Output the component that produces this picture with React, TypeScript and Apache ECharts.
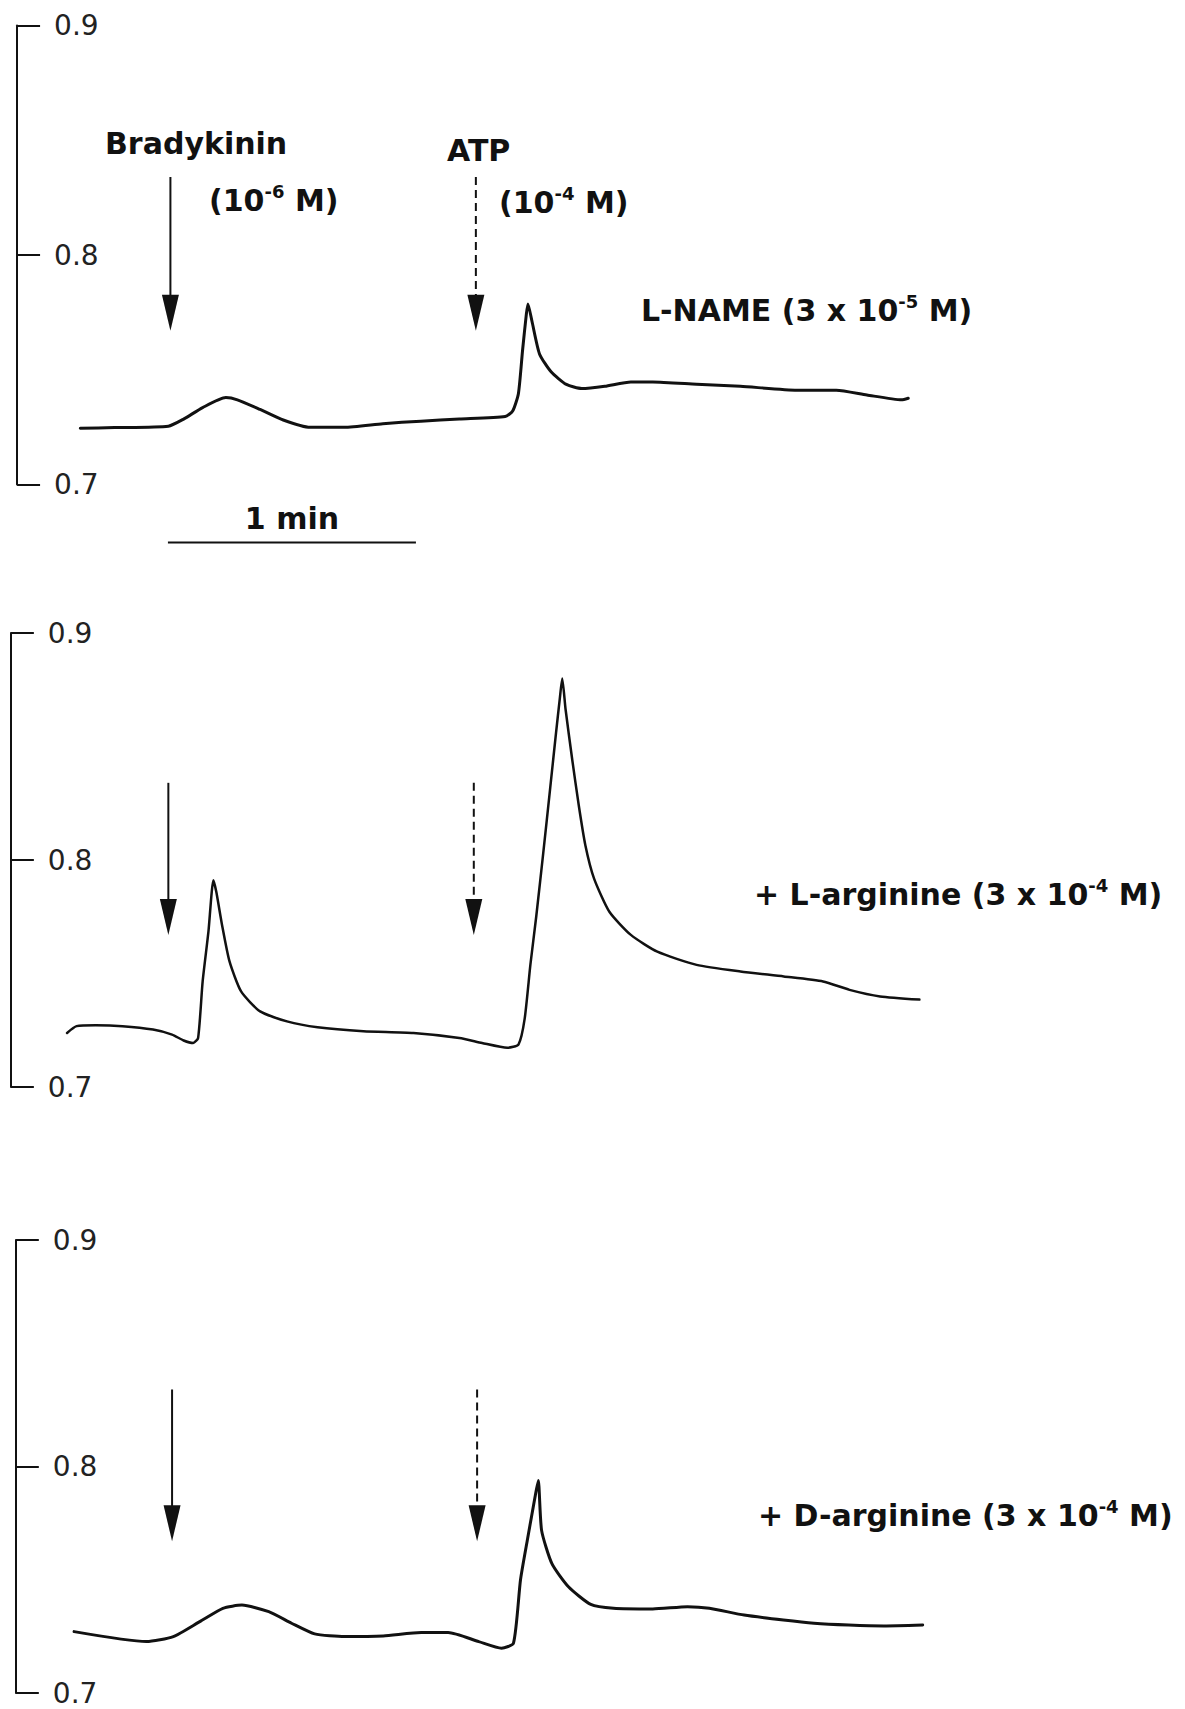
import React, { useEffect, useRef } from "react";
import * as echarts from "echarts";

// ---- axis ticks (y, absorbance-like units) ----
const Y_MIN = 0.7;
const Y_MAX = 0.9;
const Y_STEP = 0.1;

// ---- time axis: seconds relative to bradykinin addition ----
const X_MAX = 190;
const SCALE_BAR_START = -0.5; // s
const SCALE_BAR_LENGTH = 60; // s  (1 min)

// ---- Panel 1: L-NAME (3 x 10^-5 M) ----
const lNameTime = [
  -21.7, -13.4, -0.4, 3.3, 7.9, 13.5, 16.3, 21.8, 27.4, 33.9, 42.2, 51.5, 60.7, 70.0,
  81.1, 82.9, 84.3, 85.3, 86.2, 86.6, 87.6, 89.4, 92.2, 95.9, 99.6, 105.2, 111.5, 116.8,
  127.4, 138.0, 151.7, 161.2, 168.6, 177.0, 178.6,
];
const lNameValue = [
  0.7245, 0.7248, 0.7254, 0.7285, 0.7335, 0.7379, 0.7369, 0.7327, 0.7281, 0.7249, 0.7249,
  0.7265, 0.7276, 0.7285, 0.7296, 0.732, 0.7397, 0.7585, 0.774, 0.7787, 0.7709, 0.7569,
  0.7491, 0.7436, 0.7418, 0.7428, 0.7447, 0.7447, 0.7437, 0.7428, 0.7411, 0.7411, 0.739,
  0.7369, 0.7376,
];
const lNameArrowTimes = [0.1, 74.0]; // bradykinin, ATP

// ---- Panel 2: + L-arginine (3 x 10^-4 M) ----
const lArgTime = [
  -24.9, -22.6, -18.0, -11.5, -4.1, 0.5, 3.3, 5.6, 6.8, 7.9, 9.3, 10.5, 11.2, 12.6, 14.4,
  17.2, 21.8, 28.3, 35.7, 46.8, 58.9, 70.0, 75.5, 81.6, 84.3, 85.8, 87.2, 88.6, 90.3, 92.0,
  93.4, 94.3, 94.9, 95.7, 97.3, 98.9, 100.5, 102.6, 106.3, 111.5, 117.9, 127.4, 138.0,
  148.5, 158.0, 164.4, 171.8, 181.3,
];
const lArgValue = [
  0.7238, 0.7268, 0.7272, 0.7268, 0.7253, 0.7231, 0.7205, 0.7194, 0.7216, 0.7465, 0.7684,
  0.7911, 0.786, 0.7713, 0.7553, 0.7421, 0.7333, 0.7289, 0.7263, 0.7246, 0.7238, 0.7216,
  0.7194, 0.7173, 0.7187, 0.73, 0.754, 0.775, 0.803, 0.832, 0.8561, 0.871, 0.88, 0.8664,
  0.8444, 0.824, 0.8064, 0.7918, 0.7772, 0.767, 0.7596, 0.7538, 0.7509, 0.7487, 0.7465,
  0.7428, 0.7399, 0.7385,
];
const lArgArrowTimes = [-0.4, 73.5];

// ---- Panel 3: + D-arginine (3 x 10^-4 M) ----
const dArgTime = [
  -23.2, -5.7, 0.8, 7.2, 12.8, 17.4, 23.9, 29.4, 35.0, 42.3, 51.6, 60.8, 67.3, 74.7, 80.2,
  83.1, 84.8, 86.5, 88.3, 89.1, 89.9, 92.4, 96.4, 101.8, 107.3, 116.8, 125.2, 130.5, 138.9,
  148.4, 155.8, 164.2, 172.7, 182.1,
];
const dArgValue = [
  0.7271, 0.7227, 0.7249, 0.7315, 0.7374, 0.7388, 0.7359, 0.7308, 0.7261, 0.7249, 0.7252,
  0.7267, 0.7267, 0.7227, 0.7198, 0.722, 0.75, 0.768, 0.7864, 0.7938, 0.7718, 0.7571,
  0.7469, 0.7391, 0.7374, 0.7371, 0.7381, 0.7374, 0.7344, 0.7322, 0.7308, 0.73, 0.7296,
  0.73,
];
const dArgArrowTimes = [0.5, 74.3];

// arrow extents (y units) and kinds
const ARROW_TOP = 0.834;
const ARROW_TIP = 0.767;
const ARROW_KINDS = ["solid", "dashed"]; // bradykinin solid, ATP dashed

// ---- texts ----
const panelLabels = [
  "{m|L-NAME (3 x 10}{s|-5}{m| M)}",
  "{m|+ L-arginine (3 x 10}{s|-4}{m| M)}",
  "{m|+ D-arginine (3 x 10}{s|-4}{m| M)}",
];
const drugLabels = ["{m|Bradykinin}", "{m|(10}{s|-6}{m| M)}", "{m|ATP}", "{m|(10}{s|-4}{m| M)}"];
const scaleLabel = "1 min";

// ---- layout (pixels) ----
const T0_X = 170;
const PX_PER_S = 248 / 60;
const FONT = "DejaVu Sans";
const INK = "#111";

const panels = [
  { xMin: -37, top: 25.5, height: 459, time: lNameTime, value: lNameValue, arrows: lNameArrowTimes, lw: 3 },
  { xMin: -38.5, top: 633, height: 454, time: lArgTime, value: lArgValue, arrows: lArgArrowTimes, lw: 2.5 },
  { xMin: -37.3, top: 1240, height: 453, time: dArgTime, value: dArgValue, arrows: dArgArrowTimes, lw: 3 },
];

const rich = {
  m: { fontFamily: FONT, fontWeight: "bold", fontSize: 30, lineHeight: 36, fill: INK, verticalAlign: "middle" },
  s: { fontFamily: FONT, fontWeight: "bold", fontSize: 18, lineHeight: 20, fill: INK, verticalAlign: "top" },
};

const textEl = (text: string, x: number, y: number) => ({
  type: "text",
  x,
  y,
  silent: true,
  style: {
    text,
    rich,
    fill: INK,
    fontFamily: FONT,
    fontWeight: "bold",
    fontSize: 30,
    align: "left",
    verticalAlign: "middle",
  },
});

function arrowRender(params: any, api: any) {
  const p0 = api.coord([api.value(0), api.value(1)]);
  const p1 = api.coord([api.value(0), api.value(2)]);
  const dashed = ARROW_KINDS[api.value(3)] === "dashed";
  const head = 36;
  const half = 8.5;
  return {
    type: "group",
    children: [
      {
        type: "line",
        shape: { x1: p0[0], y1: p0[1], x2: p1[0], y2: p1[1] - head + 2 },
        style: { stroke: INK, lineWidth: 2, lineDash: dashed ? [8, 5] : null },
      },
      {
        type: "polygon",
        shape: {
          points: [
            [p1[0] - half, p1[1] - head],
            [p1[0] + half, p1[1] - head],
            [p1[0], p1[1]],
          ],
        },
        style: { fill: INK },
      },
    ],
  };
}

function scaleBarRender(params: any, api: any) {
  const a = api.coord([api.value(0), Y_MIN]);
  const b = api.coord([api.value(1), Y_MIN]);
  const y = a[1] + 58;
  return {
    type: "group",
    children: [
      { type: "line", shape: { x1: a[0], y1: y, x2: b[0], y2: y }, style: { stroke: INK, lineWidth: 2 } },
      {
        type: "text",
        x: (a[0] + b[0]) / 2,
        y: y - 24,
        style: {
          text: scaleLabel,
          fill: INK,
          fontFamily: FONT,
          fontWeight: "bold",
          fontSize: 30,
          align: "center",
          verticalAlign: "middle",
        },
      },
    ],
  };
}

export default function App() {
  const ref = useRef<HTMLDivElement>(null);
  useEffect(() => {
    document.body.style.margin = "0";
    const chart = echarts.init(ref.current!, undefined, { renderer: "svg" });
    const series: any[] = [];
    panels.forEach((p, i) => {
      series.push({
        type: "line",
        xAxisIndex: i,
        yAxisIndex: i,
        data: p.time.map((t, j) => [t, p.value[j]]),
        symbol: "none",
        showSymbol: false,
        smooth: 0.2,
        clip: false,
        lineStyle: { color: INK, width: p.lw, cap: "round", join: "round" },
        silent: true,
      });
      series.push({
        type: "custom",
        xAxisIndex: i,
        yAxisIndex: i,
        data: p.arrows.map((t, k) => [t, ARROW_TOP, ARROW_TIP, k]),
        renderItem: arrowRender,
        clip: false,
        silent: true,
      });
    });
    series.push({
      type: "custom",
      xAxisIndex: 0,
      yAxisIndex: 0,
      data: [[SCALE_BAR_START, SCALE_BAR_START + SCALE_BAR_LENGTH]],
      renderItem: scaleBarRender,
      clip: false,
      silent: true,
    });

    chart.setOption({
      animation: false,
      backgroundColor: "#fff",
      grid: panels.map((p) => ({
        left: T0_X + p.xMin * PX_PER_S,
        top: p.top,
        width: (X_MAX - p.xMin) * PX_PER_S,
        height: p.height,
      })),
      xAxis: panels.map((p, i) => ({
        gridIndex: i,
        type: "value",
        min: p.xMin,
        max: X_MAX,
        show: false,
      })),
      yAxis: panels.map((p, i) => ({
        gridIndex: i,
        type: "value",
        min: Y_MIN,
        max: Y_MAX,
        interval: Y_STEP,
        position: "left",
        axisLine: { show: true, onZero: false, lineStyle: { color: INK, width: 2 } },
        axisTick: { show: true, inside: true, length: 23, lineStyle: { color: INK, width: 2 } },
        axisLabel: {
          inside: true,
          margin: 37,
          fontFamily: FONT,
          fontSize: 28,
          lineHeight: 26,
          color: "#222",
          formatter: (v: number) => v.toFixed(1),
        },
        splitLine: { show: false },
      })),
      graphic: [
        textEl(drugLabels[0], 105, 143),
        textEl(drugLabels[1], 209, 200),
        textEl(drugLabels[2], 447, 150),
        textEl(drugLabels[3], 499, 202),
        textEl(panelLabels[0], 641, 310),
        textEl(panelLabels[1], 754, 894),
        textEl(panelLabels[2], 758, 1515),
      ],
      series,
    });
    return () => chart.dispose();
  }, []);
  return <div ref={ref} style={{ width: 1185, height: 1709 }} />;
}
